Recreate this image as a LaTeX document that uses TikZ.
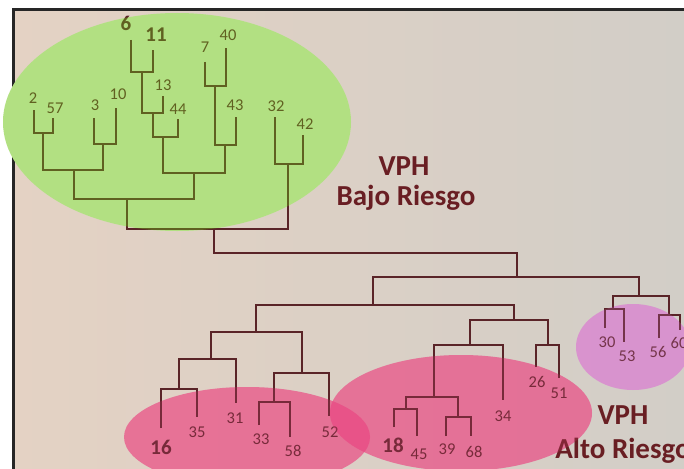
\documentclass[tikz,border=0pt]{standalone}
\usepackage{fontspec}
\setmainfont{Carlito}
\usepackage{xcolor}
\usetikzlibrary{positioning}

\definecolor{rama}{RGB}{90,36,40}
\definecolor{papelA}{RGB}{228,210,196}
\definecolor{papelB}{RGB}{210,206,199}
\definecolor{verde}{RGB}{215,232,189}
\definecolor{verdeT}{RGB}{110,210,20}
\definecolor{rosa}{RGB}{235,70,130}
\definecolor{lila}{RGB}{220,120,210}
\definecolor{titulo}{RGB}{105,30,35}

\begin{document}
\begin{tikzpicture}[x=1pt,y=-1pt]
\tikzstyle{enlace} = [draw=rama, line width=2.5pt]
\tikzstyle{num} = [text=rama, inner sep=0pt, font=\fontsize{16.5}{16.5}\selectfont]
\tikzstyle{numb} = [num, font=\bfseries\fontsize{21}{21}\selectfont]
\tikzstyle{grupo} = [text=titulo, anchor=base, font=\bfseries\fontsize{29}{30}\selectfont]

\useasboundingbox (0,0) rectangle (684,468);
\clip (0,0) rectangle (684,468);

% paper and frame
\fill[white] (0,0) rectangle (684,468);
\shade[left color=papelA, right color=papelB] (13,10) rectangle (684,468);
\draw[line width=3pt, black!85] (13,470) -- (13,10) -- (690,10);

% clusters
\fill[verde] (177,122) ellipse [x radius=174pt, y radius=109pt];
\fill[rosa, fill opacity=0.6] (247,437) ellipse [x radius=123pt, y radius=50pt];
\fill[rosa, fill opacity=0.6] (461,413) ellipse [x radius=131pt, y radius=58pt];
\fill[lila, fill opacity=0.6] (633,347) ellipse [x radius=57pt, y radius=43pt];

% labels and leaf ends, low risk
\node[num] (n2) at (33,98) {2};       \coordinate (l2) at (34,110);
\node[num] (n57) at (55,108) {57};    \coordinate (l57) at (53,118);
\node[num] (n3) at (95,105) {3};      \coordinate (l3) at (94,118);
\node[num] (n10) at (118,94) {10};    \coordinate (l10) at (116,108);
\node[numb] (n6) at (126,23) {6};     \coordinate (l6) at (131,40);
\node[numb] (n11) at (156,35) {11};   \coordinate (l11) at (153,50);
\node[num] (n13) at (163,85) {13};    \coordinate (l13) at (163,96);
\node[num] (n44) at (178,109) {44};   \coordinate (l44) at (178,119);
\node[num] (n7) at (205,47) {7};      \coordinate (l7) at (205,62);
\node[num] (n40) at (228,35) {40};    \coordinate (l40) at (226,48);
\node[num] (n43) at (235,105) {43};   \coordinate (l43) at (236,117);
\node[num] (n32) at (276,106) {32};   \coordinate (l32) at (275,117);
\node[num] (n42) at (305,124) {42};   \coordinate (l42) at (303,135);

% labels and leaf ends, high risk
\node[numb] (n16) at (161,447) {16};  \coordinate (l16) at (161,428);
\node[num] (n35) at (197,432) {35};   \coordinate (l35) at (197,417);
\node[num] (n31) at (235,418) {31};   \coordinate (l31) at (236,403);
\node[num] (n33) at (261,439) {33};   \coordinate (l33) at (259,425);
\node[num] (n58) at (293,451) {58};   \coordinate (l58) at (290,437);
\node[num] (n52) at (330,432) {52};   \coordinate (l52) at (329,416);
\node[numb] (n18) at (393,445) {18};  \coordinate (l18) at (394,427);
\node[num] (n45) at (419,454) {45};   \coordinate (l45) at (417,436);
\node[num] (n39) at (447,449) {39};   \coordinate (l39) at (446,436);
\node[num] (n68) at (474,452) {68};   \coordinate (l68) at (471,436);
\node[num] (n34) at (503,416) {34};   \coordinate (l34) at (503,400);
\node[num] (n26) at (537,382) {26};   \coordinate (l26) at (536,367);
\node[num] (n51) at (559,393) {51};   \coordinate (l51) at (559,378);
\node[num] (n30) at (607,342) {30};   \coordinate (l30) at (605,328);
\node[num] (n53) at (627,356) {53};   \coordinate (l53) at (624,342);
\node[num] (n56) at (658,352) {56};   \coordinate (l56) at (659,338);
\node[num] (n60) at (679,343) {60};   \coordinate (l60) at (680,330);

% merge points
\coordinate (g1) at (43,133);
\coordinate (g2) at (103,144);
\coordinate (g3) at (74,170);
\coordinate (g4) at (142,72);
\coordinate (g5) at (153,113);
\coordinate (g6) at (163,137);
\coordinate (g7) at (215,86);
\coordinate (g8) at (225,145);
\coordinate (g9) at (194,173);
\coordinate (g10) at (127,199);
\coordinate (g11) at (288,164);
\coordinate (g12) at (214,229);
\coordinate (union) at (365,253);
\coordinate (r1) at (179,389);
\coordinate (r2) at (211,359);
\coordinate (r3) at (274,402);
\coordinate (r4) at (302,373);
\coordinate (r5) at (256,332);
\coordinate (r6) at (406,409);
\coordinate (r7) at (458,417);
\coordinate (r8) at (434,397);
\coordinate (r9) at (470,345);
\coordinate (r10) at (548,345);
\coordinate (r11) at (514,320);
\coordinate (r12) at (373,305);
\coordinate (r13) at (613,309);
\coordinate (r14) at (669,315);
\coordinate (r15) at (639,296);
\coordinate (r16) at (517,277);

\draw[enlace] (l2) |- (g1) -| (l57);
\draw[enlace] (l3) |- (g2) -| (l10);
\draw[enlace] (g1) |- (g3) -| (g2);
\draw[enlace] (l6) |- (g4) -| (l11);
\draw[enlace] (g4) |- (g5) -| (l13);
\draw[enlace] (g5) |- (g6) -| (l44);
\draw[enlace] (l7) |- (g7) -| (l40);
\draw[enlace] (g7) |- (g8) -| (l43);
\draw[enlace] (g6) |- (g9) -| (g8);
\draw[enlace] (g3) |- (g10) -| (g9);
\draw[enlace] (l32) |- (g11) -| (l42);
\draw[enlace] (g10) |- (g12) -| (g11);
\draw[enlace] (g12) |- (union) -| (r16);

\draw[enlace] (l16) |- (r1) -| (l35);
\draw[enlace] (r1) |- (r2) -| (l31);
\draw[enlace] (l33) |- (r3) -| (l58);
\draw[enlace] (r3) |- (r4) -| (l52);
\draw[enlace] (r2) |- (r5) -| (r4);
\draw[enlace] (l18) |- (r6) -| (l45);
\draw[enlace] (l39) |- (r7) -| (l68);
\draw[enlace] (r6) |- (r8) -| (r7);
\draw[enlace] (r8) |- (r9) -| (l34);
\draw[enlace] (l26) |- (r10) -| (l51);
\draw[enlace] (r9) |- (r11) -| (r10);
\draw[enlace] (r5) |- (r12) -| (r11);
\draw[enlace] (l30) |- (r13) -| (l53);
\draw[enlace] (l56) |- (r14) -| (l60);
\draw[enlace] (r13) |- (r15) -| (r14);
\draw[enlace] (r12) |- (r16) -| (r15);

\node[grupo] (vph1) at (404,175) {VPH};
\node[grupo] (bajo) at (406,205) {Bajo Riesgo};
\node[grupo] (vph2) at (623,424) {VPH};
\node[grupo] (alto) at (623,458) {Alto Riesgo};

% tint on top of the clusters
\fill[verdeT, fill opacity=0.35] (177,122) ellipse [x radius=174pt, y radius=109pt];
\fill[rosa, fill opacity=0.2] (247,437) ellipse [x radius=123pt, y radius=50pt];
\fill[rosa, fill opacity=0.2] (461,413) ellipse [x radius=131pt, y radius=58pt];
\fill[lila, fill opacity=0.2] (633,347) ellipse [x radius=57pt, y radius=43pt];
\end{tikzpicture}
\end{document}
